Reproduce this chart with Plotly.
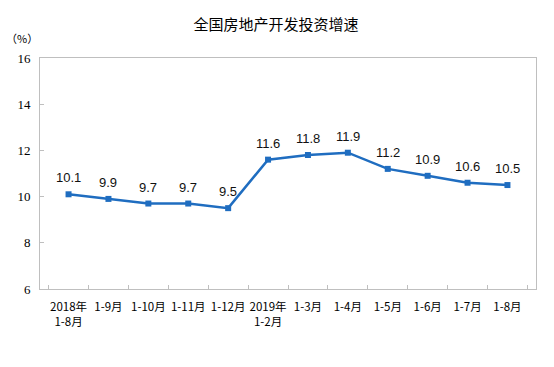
import plotly.graph_objects as go

categories = ["2018年<br>1-8月", "1-9月", "1-10月", "1-11月", "1-12月", "2019年<br>1-2月",
              "1-3月", "1-4月", "1-5月", "1-6月", "1-7月", "1-8月"]
growth = [10.1, 9.9, 9.7, 9.7, 9.5, 11.6, 11.8, 11.9, 11.2, 10.9, 10.6, 10.5]
y_ticks = [6, 8, 10, 12, 14, 16]

color = "#1f6dc0"
fig = go.Figure()
fig.add_trace(go.Scatter(
    x=categories, y=growth, mode="lines+markers",
    line=dict(color=color, width=2.5),
    marker=dict(symbol="square", size=6, color=color),
    cliponaxis=False, hoverinfo="skip",
))
annotations = [
    dict(x=c, y=v, text=f"{v:.1f}", showarrow=False, yanchor="bottom", yshift=7,
         font=dict(family="Liberation Sans, Arial", size=13, color="#111"))
    for c, v in zip(categories, growth)
]
annotations.append(dict(text="（%）", x=-0.036, y=1.088, xref="x domain", yref="y domain",
                        xanchor="center", yanchor="middle", showarrow=False,
                        font=dict(family="Noto Sans CJK SC", size=11, color="#000")))
fig.update_layout(
    width=554, height=367, margin=dict(l=40, r=18, t=58, b=78),
    paper_bgcolor="white", plot_bgcolor="white", showlegend=False,
    title=dict(text="全国房地产开发投资增速", x=0.498, xanchor="center", y=0.932, yanchor="middle",
               font=dict(family="Noto Sans CJK SC", size=15, color="#000")),
    xaxis=dict(type="category", showline=True, mirror=True, linecolor="#bfbfbf", linewidth=1,
               ticks="inside", tickson="boundaries", ticklen=4, tickcolor="#bfbfbf",
               showgrid=False, tickangle=0, ticklabelstandoff=7,
               tickfont=dict(family="Noto Sans CJK SC", size=11.5, color="#000")),
    yaxis=dict(range=[6, 16], tickvals=y_ticks, showline=True, mirror=True, linecolor="#bfbfbf",
               linewidth=1, ticks="inside", ticklen=4, tickcolor="#bfbfbf", showgrid=False,
               zeroline=False, ticklabelstandoff=6,
               tickfont=dict(family="Liberation Serif", size=13, color="#000")),
    annotations=annotations,
)
fig.write_html("out.html", config={"displayModeBar": False},
               post_script="document.body.style.margin='0';")
